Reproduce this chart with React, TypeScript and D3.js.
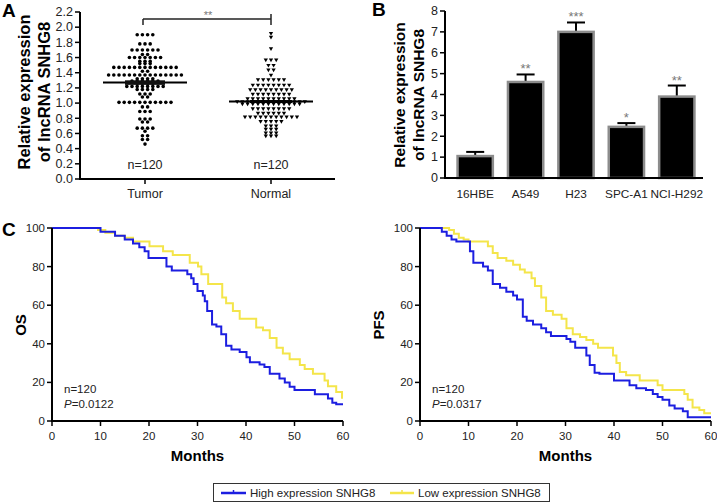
import React from 'react';
import * as d3 from 'd3';

const FONT = '"Liberation Sans", Arial, Helvetica, sans-serif';

// ---------- Panel A data ----------
const groupsA = ['Tumor', 'Normal'];
const tumorLevels = [1.90, 1.78, 1.70, 1.64, 1.60, 1.55, 1.52, 1.47, 1.42, 1.37, 1.32, 1.29, 1.26, 1.22, 1.18, 1.12, 1.08, 1.01, 0.95, 0.89, 0.79, 0.75, 0.67, 0.63, 0.57, 0.52, 0.46];
const tumorCounts = [4, 3, 6, 2, 7, 3, 3, 13, 2, 15, 4, 6, 4, 8, 4, 3, 2, 11, 2, 3, 3, 2, 4, 1, 2, 2, 1];
const normalLevels = [1.92, 1.87, 1.72, 1.57, 1.50, 1.44, 1.37, 1.31, 1.24, 1.18, 1.12, 1.06, 1.02, 0.99, 0.93, 0.87, 0.82, 0.76, 0.70, 0.66, 0.61, 0.57];
const normalCounts = [1, 1, 1, 3, 2, 2, 1, 6, 8, 9, 8, 10, 14, 12, 8, 6, 11, 5, 3, 3, 3, 3];
const meansA = [1.27, 1.02];
const semA = [0.03, 0.02];
const ticksA = [0, 0.2, 0.4, 0.6, 0.8, 1.0, 1.2, 1.4, 1.6, 1.8, 2.0, 2.2];

// ---------- Panel B data ----------
const cellLines = ['16HBE', 'A549', 'H23', 'SPC-A1', 'NCI-H292'];
const cellMeans = [1.05, 4.6, 7.0, 2.45, 3.9];
const cellErrors = [0.2, 0.36, 0.45, 0.18, 0.53];
const cellStars = ['', '**', '***', '*', '**'];
const ticksB = [0, 1, 2, 3, 4, 5, 6, 7, 8];

// ---------- Panel C data (Kaplan–Meier steps: [month, %]) ----------
const osHigh: [number, number][] = [[0, 100], [10, 98], [13, 96], [15, 94], [16.7, 92], [18, 90], [19.1, 88], [19.9, 84.5], [23.6, 80], [24.7, 78], [27.9, 76], [28.7, 74], [29.2, 71], [30, 67.4], [31.1, 65], [31.5, 62], [32, 57], [33, 50], [33.9, 49], [34.9, 45], [35.9, 39], [37, 37], [38.7, 35.7], [40.1, 33], [40.8, 30.5], [42.8, 29.3], [43.8, 28], [44.9, 24.5], [46.9, 22], [48, 20], [49, 17.7], [50, 16], [54.2, 13.9], [56.9, 11.7], [57.8, 9.4], [58.6, 8.7], [60, 8.7]];
const osLow: [number, number][] = [[0, 100], [9.5, 99], [11, 97.5], [13, 96], [15, 95], [16.7, 93], [20.1, 90.5], [22.9, 88], [24.9, 86], [28.4, 82], [30.1, 80], [30.8, 76], [32.2, 71], [35.1, 64], [35.9, 61], [37.3, 57], [38.7, 53], [42.1, 48.5], [43.5, 47], [44.9, 43], [46.3, 38], [47.6, 35], [49, 32], [51.1, 29], [52.1, 27], [53.8, 24.5], [56.2, 21], [56.9, 18], [58.6, 15], [59.8, 12], [60, 12]];
const pfsHigh: [number, number][] = [[0, 100], [4.5, 98], [5.5, 96], [6.5, 94], [7.5, 93], [10.3, 88], [11, 82], [13, 80], [14, 78], [15, 71], [16.5, 69], [17.8, 67], [19.2, 65], [20, 63], [21.2, 54], [22, 52], [23.3, 50], [25, 48], [26, 46], [27, 44], [30.2, 42.5], [31, 41], [32, 38], [34.3, 34], [35, 29], [36, 25], [37, 24.5], [40, 21], [43.2, 18.5], [44.6, 17], [46.6, 16], [48, 14], [49, 12.5], [50, 11], [51.4, 8], [52.5, 6.5], [54.2, 5], [55.2, 2], [60, 2]];
const pfsLow: [number, number][] = [[0, 100], [6, 99], [7, 97], [8, 95], [9, 94], [10, 93], [14, 90.5], [15, 87], [16, 84.5], [17.8, 83], [19.2, 81], [20.6, 78.5], [21.6, 77], [23, 74], [23.7, 70], [25, 64], [26, 57], [27.4, 55], [29.2, 53], [30.2, 48], [31.5, 45], [33, 43.5], [34.3, 42], [35.7, 40], [36.7, 38], [39.8, 34], [40.5, 30], [41.2, 25.4], [42.5, 23.7], [45.3, 21], [49, 18.5], [50, 16], [54.5, 14], [55.2, 11], [56.2, 7], [57.6, 5.7], [58.6, 4], [60, 4]];
const kmYTicks = [0, 20, 40, 60, 80, 100];
const kmXTicks = [0, 10, 20, 30, 40, 50, 60];
const legendLabels = ['High expression SNHG8', 'Low expression SNHG8'];
const BLUE = '#1c1ee0';
const YELLOW = '#f4e54a';

function swarm(levels: number[], counts: number[]) {
  const pts: { dx: number; v: number }[] = [];
  levels.forEach((v, i) => {
    const n = counts[i];
    for (let k = 0; k < n; k++) pts.push({ dx: k - (n - 1) / 2, v });
  });
  return pts;
}

function PanelA() {
  const y = d3.scaleLinear().domain([0, 2.2]).range([179, 12]);
  const x = d3.scalePoint().domain(groupsA).range([145, 271]);
  const spacing = 5.2;
  const tumorPts = swarm(tumorLevels, tumorCounts);
  const normalPts = swarm(normalLevels, normalCounts);
  const tri = d3.symbol().type(d3.symbolTriangle).size(8)()!;
  const xt = x('Tumor')!, xn = x('Normal')!;
  return (
    <g fontFamily={FONT}>
      <text x={2} y={17} fontSize={19} fontWeight="bold">A</text>
      <line x1={80} x2={80} y1={y(0)} y2={y(2.2)} stroke="#000" strokeWidth={2} />
      {ticksA.map(t => (
        <g key={t}>
          <line x1={75} x2={80} y1={y(t)} y2={y(t)} stroke="#000" strokeWidth={1.5} />
          <text x={73} y={y(t) + 4.3} fontSize={12.5} textAnchor="end" fill="#222">{t.toFixed(1)}</text>
        </g>
      ))}
      <line x1={79} x2={335} y1={y(0)} y2={y(0)} stroke="#000" strokeWidth={2} />
      {groupsA.map(g => (
        <g key={g}>
          <line x1={x(g)} x2={x(g)} y1={y(0)} y2={y(0) + 5} stroke="#000" strokeWidth={1.5} />
          <text x={x(g)} y={198} fontSize={12.5} textAnchor="middle" fill="#222">{g}</text>
          <text x={x(g)} y={169} fontSize={12.5} textAnchor="middle" fill="#222">n=120</text>
        </g>
      ))}
      <text transform={`translate(30,92) rotate(-90)`} fontSize={16.5} fontWeight="bold" textAnchor="middle">Relative expression</text>
      <text transform={`translate(50,92) rotate(-90)`} fontSize={16.5} fontWeight="bold" textAnchor="middle">of lncRNA SNHG8</text>
      <line x1={xt - 2} x2={xn} y1={19} y2={19} stroke="#222" strokeWidth={1.5} />
      <line x1={xt - 2} x2={xt - 2} y1={19} y2={25} stroke="#222" strokeWidth={1.5} />
      <line x1={xn} x2={xn} y1={14} y2={25} stroke="#222" strokeWidth={1.5} />
      <text x={(xt + xn) / 2} y={19} fontSize={11} textAnchor="middle" fill="#777">**</text>
      {tumorPts.map((p, i) => (
        <circle key={i} cx={xt + p.dx * spacing} cy={y(p.v)} r={1.8} fill="#000" />
      ))}
      <line x1={xt - 42} x2={xt + 42} y1={y(meansA[0])} y2={y(meansA[0])} stroke="#000" strokeWidth={2} />
      <rect x={xt - 20} width={40} y={y(meansA[0] + semA[0])} height={y(meansA[0] - semA[0]) - y(meansA[0] + semA[0])} fill="#111" />
      {normalPts.map((p, i) => (
        <path key={i} d={tri} transform={`translate(${xn + p.dx * spacing},${y(p.v)}) rotate(180)`} fill="#000" />
      ))}
      <line x1={xn - 42} x2={xn + 42} y1={y(meansA[1])} y2={y(meansA[1])} stroke="#000" strokeWidth={2} />
      <rect x={xn - 21} width={42} y={y(meansA[1] + semA[1])} height={y(meansA[1] - semA[1]) - y(meansA[1] + semA[1])} fill="#000" />
    </g>
  );
}

function PanelB() {
  const y = d3.scaleLinear().domain([0, 8]).range([178, 11]);
  const x = d3.scaleBand().domain(cellLines).range([450, 702]).paddingInner(0.3).paddingOuter(0.15);
  const bw = x.bandwidth();
  return (
    <g fontFamily={FONT}>
      <text x={372} y={16} fontSize={19} fontWeight="bold">B</text>
      <text transform={`translate(405,95) rotate(-90)`} fontSize={15.5} fontWeight="bold" textAnchor="middle">Relative expression</text>
      <text transform={`translate(424,95) rotate(-90)`} fontSize={15.5} fontWeight="bold" textAnchor="middle">of lncRNA SNHG8</text>
      {cellLines.map((c, i) => {
        const x0 = x(c)!;
        const cx = x0 + bw / 2;
        const top = y(cellMeans[i]);
        const et = y(cellMeans[i] + cellErrors[i]);
        return (
          <g key={c}>
            <line x1={cx} x2={cx} y1={top} y2={et} stroke="#000" strokeWidth={2} />
            <line x1={cx - 9} x2={cx + 9} y1={et} y2={et} stroke="#000" strokeWidth={2} />
            <rect x={x0} y={top} width={bw} height={y(0) - top} fill="#000" stroke="#8c8c8c" strokeWidth={2.5} />
            {cellStars[i] && (
              <text x={cx} y={et - 1} fontSize={13} textAnchor="middle" fill="#777">{cellStars[i]}</text>
            )}
            <text x={cx} y={198} fontSize={11.8} textAnchor="middle" fill="#222">{c}</text>
          </g>
        );
      })}
      <line x1={445} x2={445} y1={y(0)} y2={y(8)} stroke="#000" strokeWidth={2} />
      {ticksB.map(t => (
        <g key={t}>
          <line x1={440} x2={445} y1={y(t)} y2={y(t)} stroke="#000" strokeWidth={1.5} />
          <text x={438} y={y(t) + 4.3} fontSize={12.5} textAnchor="end" fill="#222">{t}</text>
        </g>
      ))}
      <line x1={444} x2={703} y1={y(0)} y2={y(0)} stroke="#000" strokeWidth={2} />
    </g>
  );
}

function KM({ x0, x1, yLabel, yLabelX, high, low, p, letter }: { x0: number; x1: number; yLabel: string; yLabelX: number; high: [number, number][]; low: [number, number][]; p: string; letter?: string }) {
  const x = d3.scaleLinear().domain([0, 60]).range([x0, x1]);
  const y = d3.scaleLinear().domain([0, 100]).range([421, 228]);
  const line = d3.line<[number, number]>().x(d => x(d[0])).y(d => y(d[1])).curve(d3.curveStepAfter);
  return (
    <g fontFamily={FONT}>
      {letter && <text x={2} y={236} fontSize={19} fontWeight="bold">{letter}</text>}
      <path d={line(low)!} fill="none" stroke={YELLOW} strokeWidth={2} />
      <path d={line(high)!} fill="none" stroke={BLUE} strokeWidth={2} />
      <line x1={x0} x2={x0} y1={y(0)} y2={y(100)} stroke="#000" strokeWidth={2} />
      {kmYTicks.map(t => (
        <g key={t}>
          <line x1={x0 - 5} x2={x0} y1={y(t)} y2={y(t)} stroke="#000" strokeWidth={1.5} />
          <text x={x0 - 7} y={y(t) + 4} fontSize={11.5} textAnchor="end" fill="#222">{t}</text>
        </g>
      ))}
      <line x1={x0 - 1} x2={x1} y1={y(0)} y2={y(0)} stroke="#000" strokeWidth={2} />
      {kmXTicks.map(t => (
        <g key={t}>
          <line x1={x(t)} x2={x(t)} y1={y(0)} y2={y(0) + 5} stroke="#000" strokeWidth={1.5} />
          <text x={x(t)} y={440} fontSize={11.5} textAnchor="middle" fill="#222">{t}</text>
        </g>
      ))}
      <text x={(x0 + x1) / 2} y={461} fontSize={15} fontWeight="bold" textAnchor="middle">Months</text>
      <text transform={`translate(${yLabelX},325) rotate(-90)`} fontSize={15} fontWeight="bold" textAnchor="middle">{yLabel}</text>
      <text x={x0 + 12} y={393} fontSize={11.5} fill="#222">n=120</text>
      <text x={x0 + 12} y={408} fontSize={11.5} fill="#222"><tspan fontStyle="italic">P</tspan>={p}</text>
    </g>
  );
}

function Legend() {
  return (
    <g fontFamily={FONT}>
      <rect x={213.5} y={483.5} width={336} height={18} fill="#fff" stroke="#333" strokeWidth={1} />
      <line x1={221} x2={246} y1={493} y2={493} stroke={BLUE} strokeWidth={2.5} />
      <line x1={233.5} x2={233.5} y1={490} y2={493} stroke={BLUE} strokeWidth={1.5} />
      <text x={250} y={497} fontSize={11.5} fill="#222">{legendLabels[0]}</text>
      <line x1={390} x2={414} y1={493} y2={493} stroke={YELLOW} strokeWidth={2.5} />
      <line x1={402} x2={402} y1={490} y2={493} stroke={YELLOW} strokeWidth={1.5} />
      <text x={418} y={497} fontSize={11.5} fill="#222">{legendLabels[1]}</text>
    </g>
  );
}

export default function App() {
  return (
    <svg width={717} height={503} viewBox="0 0 717 503" style={{ position: 'absolute', left: 0, top: 0, background: '#fff' }}>
      <rect width={717} height={503} fill="#fff" />
      <PanelA />
      <PanelB />
      <KM x0={52} x1={343} yLabel="OS" yLabelX={26} high={osHigh} low={osLow} p="0.0122" letter="C" />
      <KM x0={420} x1={711} yLabel="PFS" yLabelX={384} high={pfsHigh} low={pfsLow} p="0.0317" />
      <Legend />
    </svg>
  );
}
